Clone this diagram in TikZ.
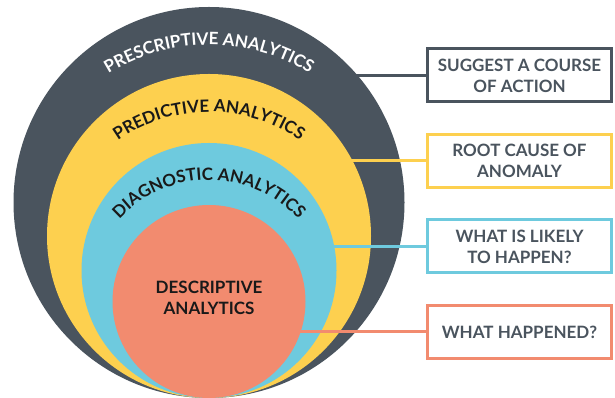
\documentclass[tikz,border=0pt]{standalone}
\usepackage{fontspec}
\setmainfont{Lato}
\usetikzlibrary{positioning,decorations.text}

\definecolor{slate}{RGB}{74,84,94}
\definecolor{sun}{RGB}{253,208,79}
\definecolor{sky}{RGB}{110,202,222}
\definecolor{coral}{RGB}{242,139,111}
\definecolor{ink}{RGB}{74,84,94}

\newcommand{\lblfont}{\fontsize{17}{21}\selectfont\bfseries}

\begin{document}
\begin{tikzpicture}[x=1pt,y=1pt,
    ring/.style={circle,inner sep=0pt,draw=none},
    infobox/.style={draw,line width=3pt,fill=white,minimum width=184pt,minimum height=53pt,
      align=center,font=\lblfont,text=ink},
    link/.style={line width=3pt},
    arclabel/.style={decorate,decoration={text along path,text align=center,text={|\lblfont|#1}}},
    node distance=29.5pt]
    \useasboundingbox (0,0) rectangle (615,398);
    % boxes
    \node[infobox,draw=slate] (action) at (519.5,322.5) {SUGGEST A COURSE\\OF ACTION};
    \node[infobox,draw=sun,below = of action] (cause) {ROOT CAUSE OF\\ANOMALY};
    \node[infobox,draw=sky,below = of cause] (likely) {WHAT IS LIKELY\\TO HAPPEN?};
    \node[infobox,draw=coral,below = of likely] (happened) {WHAT HAPPENED?};
    % prescriptive
    \node[ring,fill=slate,minimum size=391pt] (presc) at (209,195.5) {};
    \draw[link,slate] (presc.center |- action.west) -- (action.west);
    % predictive
    \node[ring,fill=sun,minimum size=324pt] (pred) at (209,162) {};
    \draw[link,sun] (pred.center |- cause.west) -- (cause.west);
    % diagnostic
    \node[ring,fill=sky,minimum size=255pt] (diag) at (209,127.5) {};
    \draw[link,sky] (diag.center |- likely.west) -- (likely.west);
    % descriptive
    \node[ring,fill=coral,minimum size=193pt] (desc) at (209,96.5) {};
    \draw[link,coral] (desc.center |- happened.west) -- (happened.west);
    \node[font=\lblfont,align=center,text=black!90] (desclbl) at (209,100.5) {DESCRIPTIVE\\ANALYTICS};
    % ring labels
    \path[arclabel={PRESCRIPTIVE ANALYTICS},decoration={text color=white}]
      (pred.center) ++(180:191pt) arc[start angle=180,end angle=0,radius=191pt];
    \path[arclabel={PREDICTIVE ANALYTICS},decoration={text color=black!90}]
      (diag.center) ++(180:158.5pt) arc[start angle=180,end angle=0,radius=158.5pt];
    \path[arclabel={DIAGNOSTIC ANALYTICS},decoration={text color=black!90}]
      (desc.center) ++(180:121.5pt) arc[start angle=180,end angle=0,radius=121.5pt];
\end{tikzpicture}
\end{document}
